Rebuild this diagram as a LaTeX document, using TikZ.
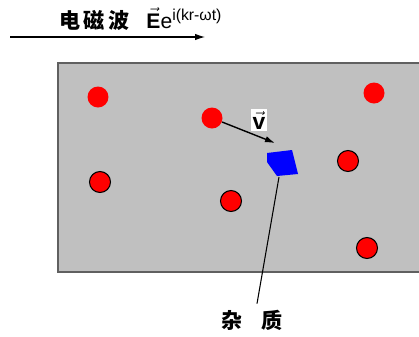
\documentclass[tikz,border=0pt]{standalone}
\usepackage{fontspec}
\setmainfont{Liberation Sans}
\newfontfamily\cjk{Noto Sans CJK SC}
\usetikzlibrary{arrows.meta}
\definecolor{slab}{RGB}{192,192,192}
\definecolor{slabedge}{RGB}{96,96,96}
\newcommand\arrvec[1]{$\vec{\mbox{\textbf{#1}}}$}

\begin{document}
\begin{tikzpicture}[x=0.02cm, y=-0.02cm,
    ball/.style={circle, fill=red, inner sep=0pt, minimum size=0.42cm},
    oball/.style={ball, draw=black, line width=0.6pt},
    tip/.style={-{Latex[length=0.2cm, width=0.13cm]}}]
    \useasboundingbox (0,0) rectangle (419,336);
    % sample
    \draw[slabedge, fill=slab, line width=1pt] (58,63) rectangle (430,272);
    % wave
    \coordinate (wl) at (10,37);
    \coordinate (wr) at (205,37);
    \draw[tip, line width=0.6pt] (wl) -- (wr);
    \node[anchor=base west, inner sep=0pt, font=\fontsize{12}{14}\selectfont] (wave) at (59,28)
        {{\cjk\bfseries 电\,磁\,波}\hspace{0.8em}\arrvec{E}e$^{\mbox{\fontsize{9}{10}\selectfont i(kr-ωt)}}$};
    % electrons
    \foreach \x/\y/\n in {98/97/e1, 212/118/e2, 374/93/e3} {
        \node[ball] (\n) at (\x,\y) {};
    }
    \foreach \x/\y/\n in {100/182/e4, 231/201/e5, 348/161/e6, 367/248/e7} {
        \node[oball] (\n) at (\x,\y) {};
    }
    % impurity
    \fill[blue] (267,153) -- (292,150) -- (298,174) -- (277,176) -- (267,162) -- cycle;
    \coordinate (imp) at (279,177);
    \coordinate (vtip) at (275,143);
    \draw[tip, line width=0.8pt] (e2) -- (vtip);
    \node[fill=white, inner sep=1.2pt, font=\fontsize{13}{15}\selectfont] (vel) at (259,120)
        {\arrvec{v}};
    \node[font=\fontsize{12}{14}\selectfont] (zazhi) at (252,320) {\cjk\bfseries 杂\hspace{0.9em}质};
    \draw[line width=0.6pt] (imp) -- ([xshift=0.1cm]zazhi.north);
\end{tikzpicture}
\end{document}
